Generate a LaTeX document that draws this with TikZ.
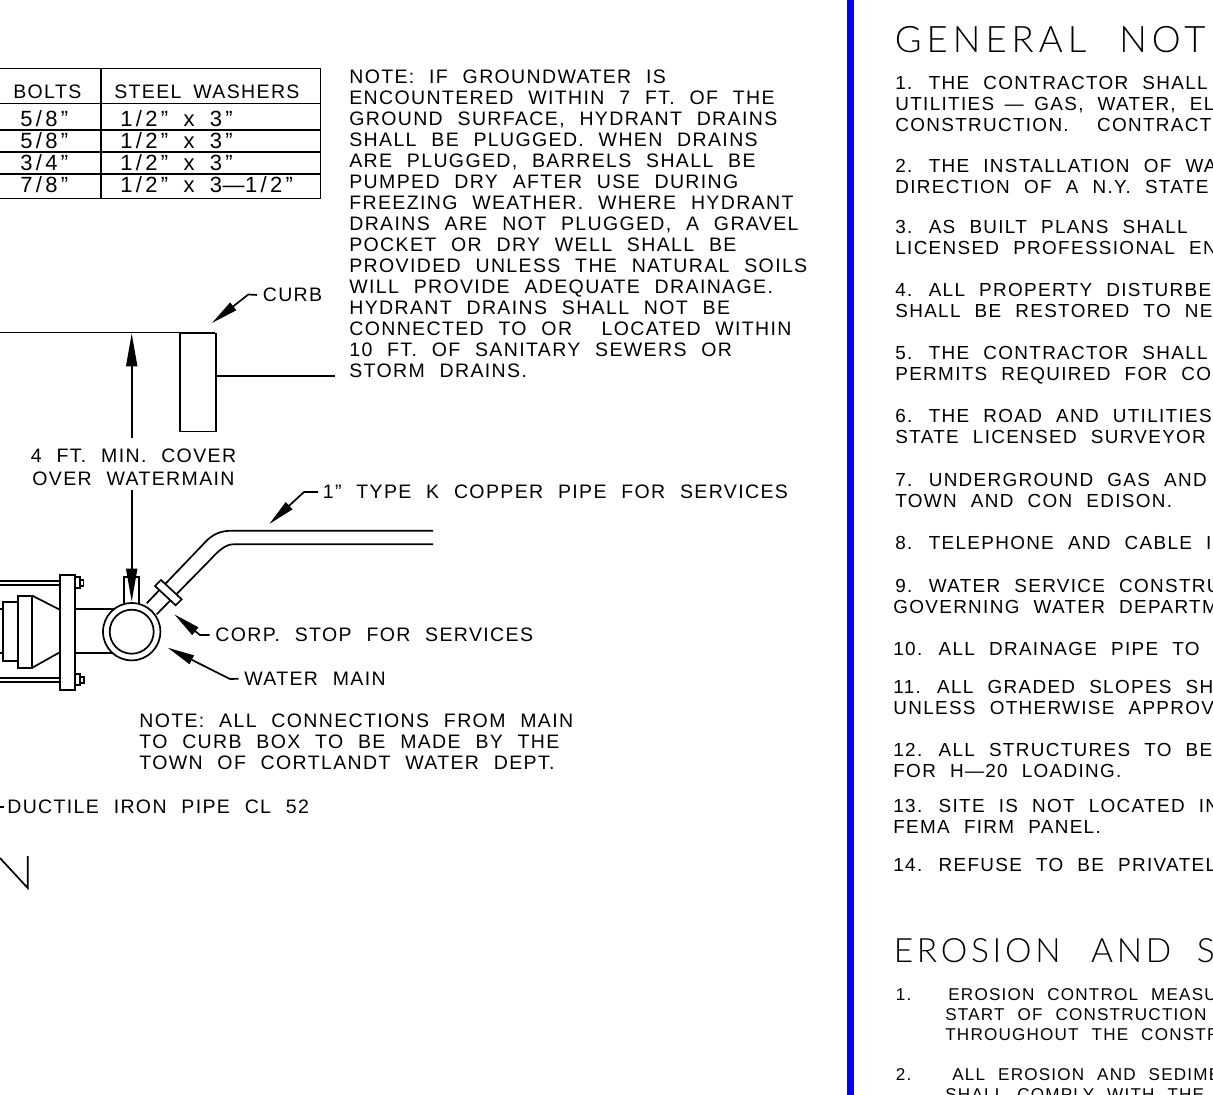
\documentclass[tikz,border=0pt]{standalone}
\usepackage{fontspec}
\setmainfont[LetterSpace=7]{Liberation Sans}
\newfontfamily\genfont[LetterSpace=13.8,WordSpace=2]{Lato Light}
\newfontfamily\erofont[LetterSpace=11,WordSpace=2]{Lato Light}
\newfontfamily\tblfont[LetterSpace=15,Ligatures=TeX]{Liberation Sans}
\usetikzlibrary{arrows.meta}
\newcommand{\textsz}{\fontsize{19.5}{21}\selectfont\spaceskip=.76em\relax}
\newcommand{\genssz}{\fontsize{18.9}{21}\selectfont\spaceskip=.75em\relax}
\newcommand{\smallsz}{\fontsize{17.1}{20}\selectfont\spaceskip=.76em\relax}
\newcommand{\tblsz}{\tblfont\fontsize{22}{24}\selectfont\spaceskip=.7em\relax}
\tikzset{
  lbl/.style={anchor=north west, inner sep=0pt, align=left, yshift=.8pt, font=\textsz},
  genlbl/.style={anchor=north west, inner sep=0pt, align=left, yshift=.8pt, font=\genssz},
  smalllbl/.style={anchor=north west, inner sep=0pt, align=left, font=\smallsz},
  tblhead/.style={anchor=base west, inner sep=0pt, font=\textsz},
  tbl/.style={anchor=base west, inner sep=0pt, font=\tblsz},
  genhd/.style={anchor=base west, inner sep=0pt, font=\genfont\fontsize{36.5}{40}\selectfont},
  erohd/.style={anchor=base west, inner sep=0pt, font=\erofont\fontsize{33.5}{40}\selectfont},
  part/.style={line width=1.7pt, fill=white},
  leader/.style={line width=1.7pt, -{Triangle[length=27pt,width=9.5pt]}},
  bigleader/.style={line width=1.7pt, -{Triangle[length=33pt,width=11pt]}}
}

\begin{document}
\begin{tikzpicture}[x=1pt,y=-1pt,line width=1.7pt]
  \useasboundingbox (0,0) rectangle (1213,1095);
  \clip (0,0) rectangle (1213,1095);
  \fill[blue] (847.3,0) rectangle (854.3,1095);

  % table
  \draw (0,68.5) -- (320.5,68.5) -- (320.5,198.5) -- (0,198.5);
  \draw (101,68.5) -- (101,198.5);
  \foreach \y in {103.5,130,152.3,174.3}
    \draw (0,\y) -- (320.5,\y);
  \node (bolthead) at (12.5,98.3) [tblhead] {BOLTS};
  \node (washhead) at (113.5,98.3) [tblhead] {STEEL\hspace{-3pt} WASHERS};
  \node (bolta) at (19.5,126.7) [tbl] {5/8”};
  \node (boltb) at (19.5,148.3) [tbl] {5/8”};
  \node (boltc) at (19.5,170) [tbl] {3/4”};
  \node (boltd) at (19.5,192.5) [tbl] {7/8”};
  \node (washa) at (119.5,126.7) [tbl] {1/2” x 3”};
  \node (washb) at (119.5,148.3) [tbl] {1/2” x 3”};
  \node (washc) at (119.5,170) [tbl] {1/2” x 3”};
  \node (washd) at (119.5,192.5) [tbl] {1/2” x 3\hspace{.5pt}---\hspace{.5pt}1/2”};

  \node (drainnote) at (348.5,70) [lbl] {NOTE: IF GROUNDWATER IS\\ENCOUNTERED WITHIN 7 FT. OF THE\\GROUND SURFACE, HYDRANT DRAINS\\SHALL BE PLUGGED. WHEN DRAINS\\ARE PLUGGED, BARRELS SHALL BE\\PUMPED DRY AFTER USE DURING\\FREEZING WEATHER. WHERE HYDRANT\\DRAINS ARE NOT PLUGGED, A GRAVEL\\POCKET OR DRY WELL SHALL BE\\PROVIDED UNLESS THE NATURAL SOILS\\WILL PROVIDE ADEQUATE DRAINAGE.\\HYDRANT DRAINS SHALL NOT BE\\CONNECTED TO OR\ \ LOCATED WITHIN\\10 FT. OF SANITARY SEWERS OR\\STORM DRAINS.};

  % curb
  \node (curblbl) at (262,288) [lbl] {CURB};
  \coordinate (curbtip) at (212,323);
  \draw[leader] ([xshift=-5pt]curblbl.west) -- (248.3,294.5) -- (curbtip);
  \draw (0,332.5) -- (215,332.5);
  \node (curb) at (179.3,332.5) [part, draw, anchor=north west, minimum width=35.7pt, minimum height=98.2pt, inner sep=0pt] {};
  \coordinate (storm) at (335,376);
  \draw (curb.east |- storm) -- (storm);

  \node (coverlbl) at (133.5,449) [lbl, anchor=north, align=center] {4 FT. MIN. COVER\\[2pt]OVER WATERMAIN};
  \coordinate (covertop) at (131.7,333.3);
  \coordinate (coverbot) at (131.7,601.7);
  \draw[bigleader] (131.7,438.3) -- (covertop);

  % service pipe
  \draw (146.7,603.3) -- (207.3,540) .. controls (216,532) and (224,530.7) .. (233,530.7) -- (433,530.7);
  \draw (156.7,614.3) -- (210,560) .. controls (219,550) and (226,544.3) .. (233.3,544.3) -- (433,544.3);
  \draw[part] (155,586) -- (161,580) -- (181.7,599.3) -- (175.7,605.3) -- cycle;

  % hydrant tee and flange
  \draw (0,581) -- (59,581) (0,585) -- (59,585);
  \draw (0,677.7) -- (59,677.7) (0,682.3) -- (59,682.3);
  \draw (0,609.3) -- (3.3,609.3) (0,653.3) -- (3.3,653.3);
  \draw (3.3,602.3) rectangle (17.7,660.7);
  \draw (17.7,595.7) rectangle (32.3,667.7);
  \draw (32.3,595.7) -- (59,609.3) (32.3,667.7) -- (59,652.7);
  \draw (74,609.3) -- (115,609.3) (74,652.7) -- (115,652.7);
  \draw (74,577.3) rectangle (80,588.3) (80,580) rectangle (83.5,586);
  \draw (74,674.3) rectangle (80,685) (80,677) rectangle (84,683);
  \node (flange) at (59,574) [part, draw, anchor=north west, minimum width=15pt, minimum height=115pt, inner sep=0pt] {};
  \draw (124.3,606) -- (124.3,577) -- (139.3,577) -- (139.3,606);
  \node (mainouter) at (131.7,631.7) [part, draw, circle, minimum size=57.4pt, inner sep=0pt] {};
  \node (maininner) at (131.7,631.7) [part, draw, circle, minimum size=44pt, inner sep=0pt] {};
  \draw[bigleader] (131.7,490) -- (coverbot);

  % leaders
  \node (pipelbl) at (322,485) [lbl] {1” TYPE K COPPER PIPE FOR SERVICES};
  \coordinate (pipetip) at (269.3,524);
  \draw[leader] ([xshift=-4pt]pipelbl.west) -- (304,492) -- (pipetip);
  \node (corplbl) at (214.5,628) [lbl] {CORP. STOP FOR SERVICES};
  \coordinate (corptip) at (174.3,614.3);
  \draw[leader] ([xshift=-5pt]corplbl.west) -- (200,635) -- (corptip);
  \node (mainlbl) at (243.5,672) [lbl] {WATER MAIN};
  \coordinate (maintip) at (167.7,647.7);
  \draw[leader] ([xshift=-5pt]mainlbl.west) -- (230,679) -- (maintip);

  \node (townnote) at (138.5,713.5) [lbl] {NOTE: ALL CONNECTIONS FROM MAIN\\TO CURB BOX TO BE MADE BY THE\\TOWN OF CORTLANDT WATER DEPT.};
  \node (ironlbl) at (6.5,800) [lbl] {DUCTILE IRON PIPE CL 52};
  \coordinate (ironend) at (0,807);
  \draw ([xshift=-2.5pt]ironlbl.west) -- (ironend);
  \coordinate (nleft) at (0,858);
  \coordinate (nfoot) at (27.7,888);
  \coordinate (nhead) at (27.7,856);
  \draw (nleft) -- (nfoot) -- (nhead);

  % general notes
  \node (genhead) at (894,52) [genhd] {GENERAL\hspace{3pt} NOTE};
  \node (gena) at (894.5,76) [genlbl] {1. THE CONTRACTOR SHALL\\UTILITIES\hspace{-3.5pt} --- \hspace{-3.5pt}GAS, WATER, EL\\CONSTRUCTION.\ \ CONTRACTO};
  \node (genb) at (894.5,159) [genlbl] {2. THE INSTALLATION OF WA\\DIRECTION OF A N.Y. STATE};
  \node (genc) at (894.5,220) [genlbl] {3. AS BUILT PLANS SHALL\\LICENSED PROFESSIONAL EN};
  \node (gend) at (894.5,283) [genlbl] {4. ALL PROPERTY DISTURBE\\SHALL BE RESTORED TO NE};
  \node (gene) at (894.5,346) [genlbl] {5. THE CONTRACTOR SHALL\\PERMITS REQUIRED FOR CON};
  \node (genf) at (894.5,409) [genlbl] {6. THE ROAD AND UTILITIES\\STATE LICENSED SURVEYOR};
  \node (geng) at (894.5,473) [genlbl] {7. UNDERGROUND GAS AND\\TOWN AND CON EDISON.};
  \node (genh) at (894.5,536) [genlbl] {8. TELEPHONE AND CABLE I};
  \node (geni) at (892.5,579) [genlbl] {\hspace{2pt}9. WATER SERVICE CONSTRU\\GOVERNING WATER DEPARTM};
  \node (genj) at (892.5,642) [genlbl] {10. ALL DRAINAGE PIPE TO};
  \node (genk) at (892.5,680) [genlbl] {11. ALL GRADED SLOPES SH\\UNLESS OTHERWISE APPROV};
  \node (genl) at (892.5,743) [genlbl] {12. ALL STRUCTURES TO BE\\FOR H---20 LOADING.};
  \node (genm) at (892.5,799) [genlbl] {13. SITE IS NOT LOCATED IN\\FEMA FIRM PANEL.};
  \node (genn) at (892.5,858) [genlbl] {14. REFUSE TO BE PRIVATEL};

  % erosion notes
  \node (erohead) at (893,962.5) [erohd] {EROSION\hspace{5pt} AND S};
  \node (eroa) at (895,988) [smalllbl] {1.};
  \node (erob) at (947.5,988) [smalllbl] {EROSION CONTROL MEASU};
  \node (eroc) at (944.5,1007.5) [smalllbl] {START OF CONSTRUCTION\\THROUGHOUT THE CONSTR};
  \node (erod) at (895,1067.5) [smalllbl] {2.};
  \node (eroe) at (951.5,1067.5) [smalllbl] {ALL EROSION AND SEDIME};
  \node (erof) at (944.5,1087.5) [smalllbl] {SHALL COMPLY WITH THE};
\end{tikzpicture}
\end{document}
